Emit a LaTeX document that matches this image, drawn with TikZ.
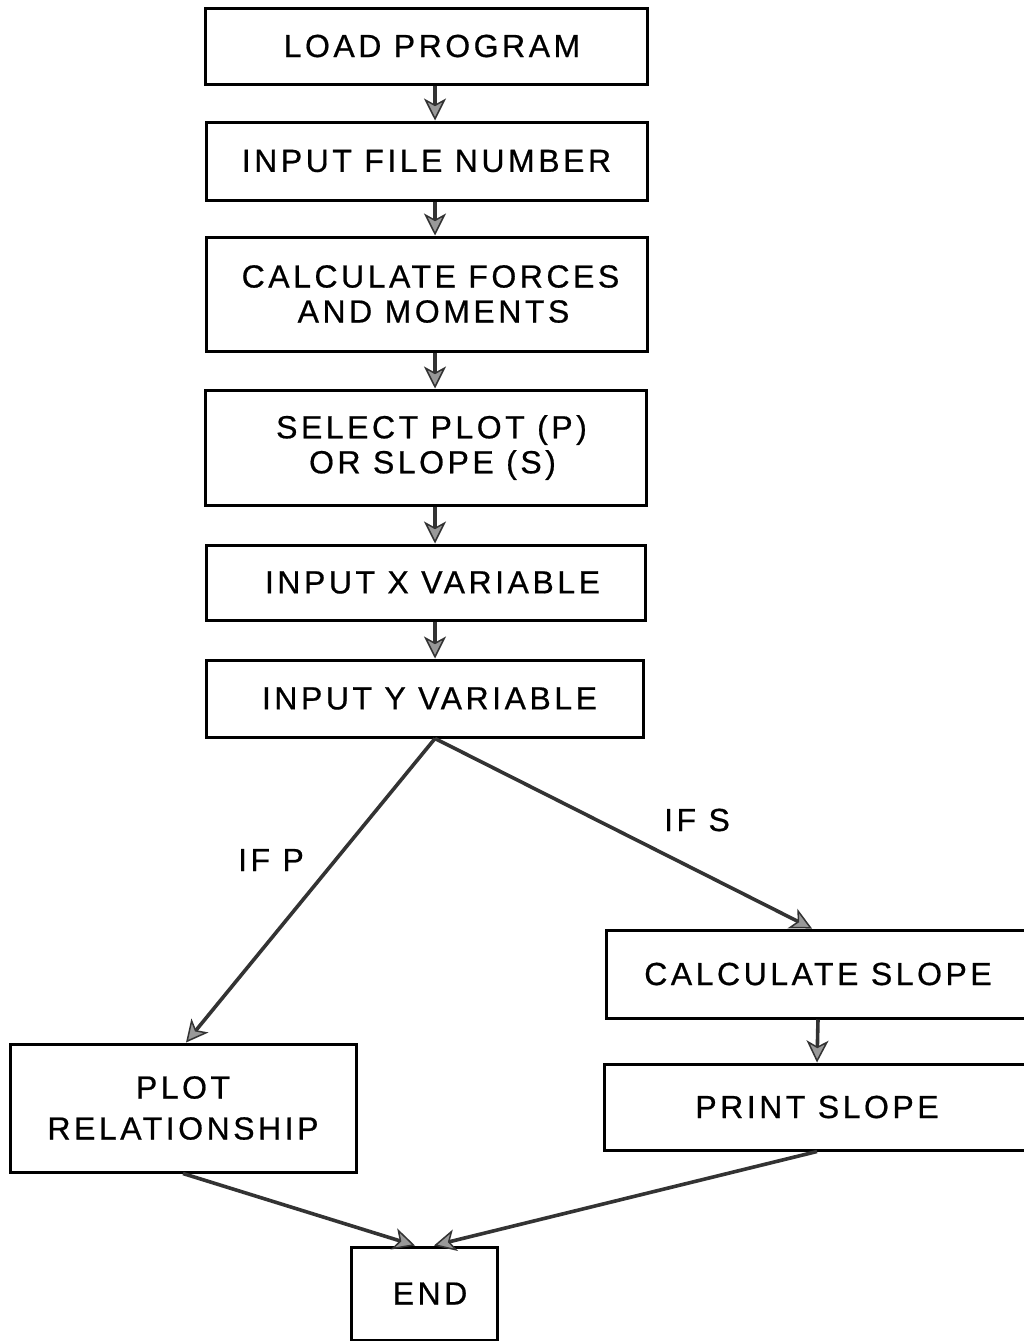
\documentclass[tikz,border=0pt]{standalone}
\usepackage{fontspec}
\setmainfont{Liberation Sans}[LetterSpace=11,FakeBold=0.6]
\usetikzlibrary{arrows.meta}
\begin{document}
\begin{tikzpicture}[x=1pt,y=-1pt,
  box/.style={draw=black, line width=3pt, inner sep=0pt, align=center,
    font=\fontsize{32}{35}\selectfont},
  arr/.style={draw=black!80, line width=3.6pt,
    -{Stealth[length=22pt,width=22pt,inset=6pt,fill=black!40,line width=1.5pt]}},
  lbl/.style={font=\fontsize{32}{35}\selectfont}]
\useasboundingbox (0,0) rectangle (1024,1341);
\fill[white] (0,0) rectangle (1024,1341);
\clip (0,0) rectangle (1024,1341);
\coordinate (ax) at (435,0);
\node[box, minimum width=442pt, minimum height=76pt] (b1) at (426,46) {\hspace*{12pt}LOAD PROGRAM};
\node[box, minimum width=441pt, minimum height=78pt] (b2) at (426.5,161) {INPUT FILE NUMBER};
\node[box, minimum width=441pt, minimum height=114pt] (b3) at (426.5,294) {\hspace*{8pt}CALCULATE FORCES\\\hspace*{14pt}AND MOMENTS};
\node[box, minimum width=441pt, minimum height=115pt] (b4) at (425.5,447.5) {\hspace*{12pt}SELECT PLOT (P)\\\hspace*{14pt}OR SLOPE (S)};
\node[box, minimum width=439pt, minimum height=75pt] (b5) at (425.5,582.5) {\hspace*{14pt}INPUT X VARIABLE};
\node[box, minimum width=437pt, minimum height=77pt] (b6) at (424.5,698.5) {\hspace*{10pt}INPUT Y VARIABLE};
\node[box, minimum width=424pt, minimum height=88pt] (b7) at (818,974) {CALCULATE SLOPE};
\node[box, minimum width=426pt, minimum height=86pt] (b8) at (817,1107) {PRINT SLOPE};
\node[box, minimum width=346pt, minimum height=128pt] (b9) at (183,1108) {PLOT\\[6pt]RELATIONSHIP};
\node[box, minimum width=146pt, minimum height=93pt] (b10) at (424,1293.5) {\hspace*{12pt}END};
\node[lbl] (ifp) at (271,860) {IF P};
\node[lbl] (ifs) at (697,820) {IF S};
\draw[arr] (b1.south -| ax) -- (b2.north -| ax);
\draw[arr] (b2.south -| ax) -- (b3.north -| ax);
\draw[arr] (b3.south -| ax) -- (b4.north -| ax);
\draw[arr] (b4.south -| ax) -- (b5.north -| ax);
\draw[arr] (b5.south -| ax) -- (b6.north -| ax);
\draw[arr] (b6.south -| ax) -- ([xshift=3pt]b9.north);
\draw[arr] (b6.south -| ax) -- ([xshift=-6pt]b7.north);
\draw[arr] (b7.south) -- (b8.north);
\draw[arr] (b9.south) -- ([xshift=-9pt]b10.north);
\draw[arr] (b8.south) -- ([xshift=10pt]b10.north);
\end{tikzpicture}
\end{document}
